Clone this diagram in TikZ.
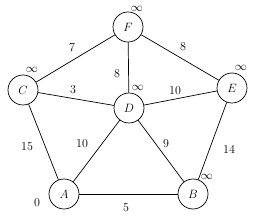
\documentclass[tikz,border=0pt]{standalone}
\usepackage{tikz}
\usetikzlibrary{positioning}

\begin{document}
\begin{tikzpicture}[font=\large,
    vertex/.style={draw, circle, line width=0.7pt, minimum size=1.05cm, inner sep=0pt, fill=white},
    road/.style={line width=0.7pt}]
    \useasboundingbox (0,0) rectangle (8.925,7.63);
    % vertices
    \node[vertex] (f) at (4.48,6.685) {$F$};
    \node[vertex] (c) at (0.805,4.48) {$C$};
    \node[vertex] (d) at (4.515,3.85) {$D$};
    \node[vertex] (e) at (8.12,4.55) {$E$};
    \node[vertex] (a) at (2.24,0.84) {$A$};
    \node[vertex] (b) at (6.755,0.84) {$B$};
    % edges
    \draw[road] (c) -- (f);
    \draw[road] (f) -- (e);
    \draw[road] (f) -- (d);
    \draw[road] (c) -- (d);
    \draw[road] (d) -- (e);
    \draw[road] (c) -- (a);
    \draw[road] (a) -- (d);
    \draw[road] (d) -- (b);
    \draw[road] (e) -- (b);
    \draw[road] (a) -- (b);
    % weights
    \node (wcf) at (2.52,5.95) {7};
    \node (wfe) at (6.405,5.985) {8};
    \node (wfd) at (4.095,5.04) {8};
    \node (wcd) at (2.555,4.48) {3};
    \node (wde) at (6.125,4.445) {10};
    \node (wca) at (0.945,2.485) {15};
    \node (wad) at (2.87,2.59) {10};
    \node (wdb) at (5.81,2.59) {9};
    \node (web) at (8.015,2.415) {14};
    \node (wab) at (4.41,0.35) {5};
    % distances
    \node (df) at (4.795,7.33) {$\infty$};
    \node (dc) at (1.12,5.18) {$\infty$};
    \node (dd) at (4.83,4.55) {$\infty$};
    \node (de) at (8.435,5.25) {$\infty$};
    \node (db) at (7.245,1.435) {$\infty$};
    \node (da) at (1.295,0.525) {0};
\end{tikzpicture}
\end{document}
